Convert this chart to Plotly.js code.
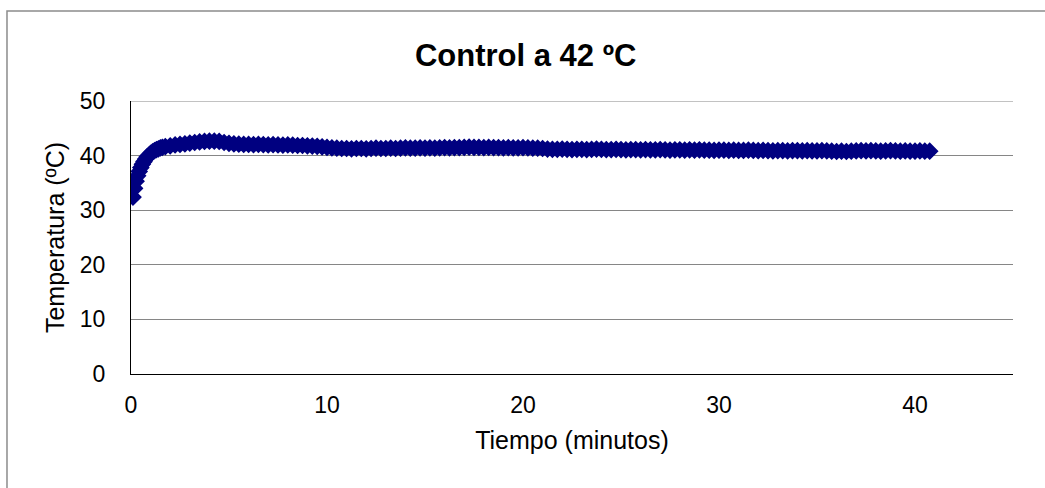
<!DOCTYPE html>
<html>
<head>
<meta charset="utf-8">
<script src="https://cdn.plot.ly/plotly-3.0.1.min.js"></script>
<style>
html,body{margin:0;padding:0;background:#fff;}
#chart{width:1045px;height:488px;}
</style>
</head>
<body>
<div id="chart"></div>
<script>
// Time in minutes
const tiempo = [
  0.1, 0.18, 0.26, 0.34, 0.42, 0.5, 0.58, 0.66, 0.75, 0.83, 0.92, 1.0, 1.1, 1.2, 1.3, 1.4, 1.5, 1.6, 1.75,
  2.0, 2.25, 2.5, 2.75, 3.0, 3.25, 3.5, 3.75, 4.0, 4.25, 4.5, 4.75, 5.0, 5.25, 5.5, 5.75,
  6.0, 6.25, 6.5, 6.75, 7.0, 7.25, 7.5, 7.75, 8.0, 8.25, 8.5, 8.75, 9.0, 9.25, 9.5, 9.75,
  10.0, 10.25, 10.5, 10.75, 11.0, 11.25, 11.5, 11.75, 12.0, 12.25, 12.5, 12.75, 13.0, 13.25, 13.5, 13.75,
  14.0, 14.25, 14.5, 14.75, 15.0, 15.25, 15.5, 15.75, 16.0, 16.25, 16.5, 16.75, 17.0, 17.25, 17.5, 17.75,
  18.0, 18.25, 18.5, 18.75, 19.0, 19.25, 19.5, 19.75, 20.0, 20.25, 20.5, 20.75, 21.0, 21.25, 21.5, 21.75,
  22.0, 22.25, 22.5, 22.75, 23.0, 23.25, 23.5, 23.75, 24.0, 24.25, 24.5, 24.75, 25.0, 25.25, 25.5, 25.75,
  26.0, 26.25, 26.5, 26.75, 27.0, 27.25, 27.5, 27.75, 28.0, 28.25, 28.5, 28.75, 29.0, 29.25, 29.5, 29.75,
  30.0, 30.25, 30.5, 30.75, 31.0, 31.25, 31.5, 31.75, 32.0, 32.25, 32.5, 32.75, 33.0, 33.25, 33.5, 33.75,
  34.0, 34.25, 34.5, 34.75, 35.0, 35.25, 35.5, 35.75, 36.0, 36.25, 36.5, 36.75, 37.0, 37.25, 37.5, 37.75,
  38.0, 38.25, 38.5, 38.75, 39.0, 39.25, 39.5, 39.75, 40.0, 40.25, 40.5, 40.75
];
// Temperature in ºC
const temperatura = [
  32.4, 34.0, 35.3, 36.3, 37.1, 37.8, 38.4, 38.9, 39.4, 39.8, 40.1, 40.4, 40.7, 40.9, 41.1, 41.25, 41.4, 41.5, 41.65,
  41.8, 41.95, 42.05, 42.15, 42.3, 42.4, 42.5, 42.6, 42.65, 42.65, 42.6, 42.4, 42.25, 42.15, 42.1, 42.05,
  42.05, 42.0, 42.05, 42.0, 41.95, 42.0, 41.95, 41.9, 41.95, 41.9, 41.85, 41.85, 41.8, 41.75, 41.7, 41.6,
  41.5, 41.4, 41.35, 41.3, 41.3, 41.25, 41.3, 41.3, 41.25, 41.3, 41.35, 41.3, 41.3, 41.35, 41.3, 41.35,
  41.4, 41.35, 41.35, 41.4, 41.35, 41.4, 41.35, 41.4, 41.45, 41.4, 41.45, 41.45, 41.5, 41.55, 41.5, 41.5,
  41.45, 41.5, 41.45, 41.45, 41.4, 41.45, 41.4, 41.4, 41.45, 41.4, 41.35, 41.35, 41.3, 41.2, 41.15, 41.15,
  41.2, 41.15, 41.1, 41.15, 41.15, 41.1, 41.15, 41.2, 41.15, 41.1, 41.1, 41.15, 41.1, 41.05, 41.1, 41.1,
  41.05, 41.1, 41.05, 41.05, 41.1, 41.05, 41.0, 41.05, 41.05, 41.0, 41.05, 41.0, 41.05, 41.0, 41.0, 40.95,
  41.0, 41.0, 40.95, 41.0, 40.95, 40.95, 41.0, 40.95, 40.9, 40.95, 40.9, 40.85, 40.9, 40.9, 40.85, 40.9,
  40.9, 40.85, 40.9, 40.85, 40.85, 40.9, 40.85, 40.8, 40.75, 40.8, 40.75, 40.8, 40.85, 40.9, 40.85, 40.9,
  40.85, 40.8, 40.85, 40.9, 40.85, 40.8, 40.85, 40.8, 40.8, 40.85, 40.8, 40.8
];
const xTicks = [0, 10, 20, 30, 40];
const yTicks = [0, 10, 20, 30, 40, 50];

const font = "Liberation Sans, Arial, sans-serif";

const trace = {
  x: tiempo,
  y: temperatura,
  type: 'scatter',
  mode: 'markers',
  marker: {symbol: 'diamond', size: 12, color: '#000080', line: {width: 1.5, color: '#000080'}},
  hoverinfo: 'x+y',
  showlegend: false
};

const layout = {
  width: 1045,
  height: 488,
  margin: {l: 131, r: 32, t: 101, b: 114, pad: 0},
  paper_bgcolor: '#ffffff',
  plot_bgcolor: '#ffffff',
  font: {family: font, color: '#000000', size: 23},
  title: {
    text: '<b>Control a 42 ºC</b>',
    font: {family: font, size: 31, color: '#000000'},
    x: 0.503, xref: 'container', xanchor: 'center',
    y: 0.887, yref: 'container', yanchor: 'middle'
  },
  xaxis: {
    range: [0, 45],
    tickvals: xTicks,
    ticktext: xTicks.map(String),
    showgrid: false,
    zeroline: false,
    showline: true,
    linecolor: '#000000',
    linewidth: 1,
    ticks: '',
    ticklabelstandoff: 10,
    tickfont: {family: font, size: 23, color: '#000000'},
    title: {text: 'Tiempo (minutos)', font: {family: font, size: 25, color: '#000000'}, standoff: 14}
  },
  yaxis: {
    range: [0, 50],
    tickvals: yTicks,
    ticktext: yTicks.map(String),
    showgrid: true,
    gridcolor: '#868686',
    gridwidth: 1,
    zeroline: false,
    showline: true,
    linecolor: '#000000',
    linewidth: 1,
    ticks: '',
    ticklabelstandoff: 20,
    tickfont: {family: font, size: 23, color: '#000000'},
    title: {text: 'Temperatura (ºC)', font: {family: font, size: 25, color: '#000000'}, standoff: 8}
  },
  shapes: [{
    type: 'path',
    xref: 'paper', yref: 'paper',
    path: 'M -0.1406,-0.5 L -0.1406,1.3297 L 1.1,1.3297',
    line: {color: '#8c8c8c', width: 1.5},
    layer: 'above'
  }, {
    type: 'line', xref: 'paper', yref: 'y',
    x0: 0, x1: 1, y0: 50, y1: 50,
    line: {color: '#868686', width: 1},
    layer: 'below'
  }]
};

Plotly.newPlot('chart', [trace], layout, {staticPlot: true, displayModeBar: false});
</script>
</body>
</html>
